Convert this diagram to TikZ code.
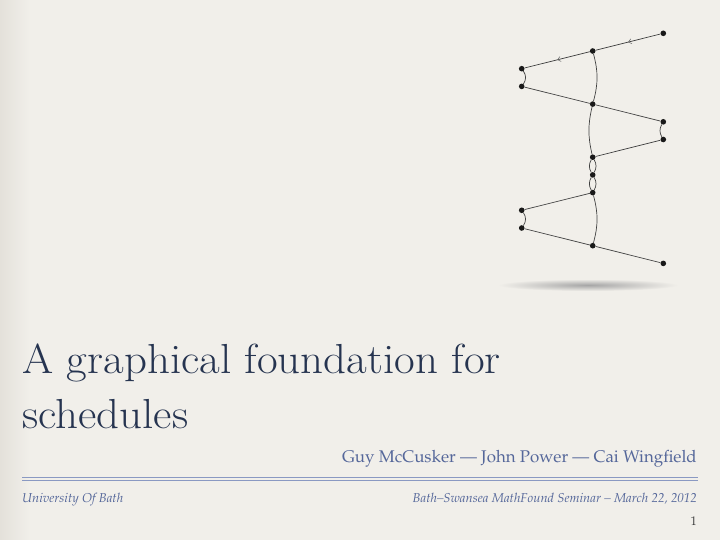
\documentclass[tikz,border=0pt]{standalone}
\usetikzlibrary{decorations.markings,arrows.meta}
\definecolor{bgc}{HTML}{F1EFEA}
\definecolor{bgdark}{HTML}{E4E1DA}
\definecolor{titlec}{HTML}{263450}
\definecolor{authc}{HTML}{55679A}
\definecolor{rulec}{HTML}{8A99C2}
\definecolor{edgec}{HTML}{404040}
\newcommand{\palfont}{\fontencoding{T1}\fontfamily{ppl}\selectfont}
\begin{document}
\begin{tikzpicture}[x=1pt,y=-1pt,
  dot/.style={circle,fill=black!90,inner sep=0pt,minimum size=5.6pt},
  edge/.style={draw=edgec,line width=0.7pt},
  midarrow/.style={postaction={decorate,decoration={markings,
     mark=at position 0.5 with {\arrow[black!55,line width=0.6pt]{Straight Barb[length=3pt,width=5pt]}}}}},
  titletext/.style={anchor=base west,inner sep=0pt,text=titlec,font=\fontsize{42}{42}\selectfont},
  authtext/.style={inner sep=0pt,text=authc},
]
% background
\fill[bgc] (0,0) rectangle (720,540);
\shade[left color=bgdark,right color=bgc] (0,0) rectangle (30,540);
\useasboundingbox (0,0) rectangle (720,540);
% shadow
\shade[inner color=black!35,outer color=bgc] (588,285) ellipse (90 and 6);
% graph nodes
\node[dot] (r0) at (663.3,33.3) {};
\node[dot] (m1) at (592.7,51) {};
\node[dot] (l2) at (521.7,68.7) {};
\node[dot] (l3) at (521.7,86.4) {};
\node[dot] (m4) at (592.7,104.1) {};
\node[dot] (r5) at (663.3,121.8) {};
\node[dot] (r6) at (663.3,139.5) {};
\node[dot] (m7) at (592.7,157.2) {};
\node[dot] (m8) at (592.7,174.9) {};
\node[dot] (m9) at (592.7,192.6) {};
\node[dot] (l10) at (521.7,210.3) {};
\node[dot] (l11) at (521.7,228) {};
\node[dot] (m12) at (592.7,245.7) {};
\node[dot] (r13) at (663.3,263.4) {};
% edges
\draw[edge,midarrow] (r0) -- (m1);
\draw[edge,midarrow] (m1) -- (l2);
\draw[edge] (l2) to[bend left=35] (l3);
\draw[edge] (l3) -- (m4);
\draw[edge] (m1) to[bend left=15] (m4);
\draw[edge] (m4) -- (r5);
\draw[edge] (r5) to[bend right=30] (r6);
\draw[edge] (r6) -- (m7);
\draw[edge] (m4) to[bend right=13] (m7);
\draw[edge] (m7) to[bend left=30] (m8);
\draw[edge] (m7) to[bend right=30] (m8);
\draw[edge] (m8) to[bend left=30] (m9);
\draw[edge] (m8) to[bend right=30] (m9);
\draw[edge] (m9) -- (l10);
\draw[edge] (l10) to[bend left=35] (l11);
\draw[edge] (l11) -- (m12);
\draw[edge] (m9) to[bend left=15] (m12);
\draw[edge] (m12) -- (r13);
% title
\node[titletext] (t1) at (22,373) {\scalebox{1.07}[1]{A graphical foundation for}};
\node[titletext] (t2) at (22,428) {\scalebox{1.07}[1]{schedules}};
% authors
\node[authtext,anchor=base east,font=\palfont\fontsize{16.9}{20}\selectfont] (auth) at (697,462)
  {Guy McCusker --- John Power --- Cai Wingfield};
% rules
\draw[rulec,line width=0.7pt] (22,477) -- (698,477);
\draw[rulec,line width=0.7pt] (22,480.2) -- (698,480.2);
% footer
\node[authtext,anchor=base west,font=\palfont\itshape\fontsize{12.9}{14}\selectfont] (uni) at (22,502)
  {University Of Bath};
\node[authtext,anchor=base east,font=\palfont\itshape\fontsize{12.9}{14}\selectfont] (sem) at (697,502)
  {Bath--Swansea MathFound Seminar -- March 22, 2012};
\node[inner sep=0pt,anchor=base east,text=black!75,font=\palfont\fontsize{12.5}{14}\selectfont] (pg) at (697,525) {1};
\end{tikzpicture}
\end{document}
